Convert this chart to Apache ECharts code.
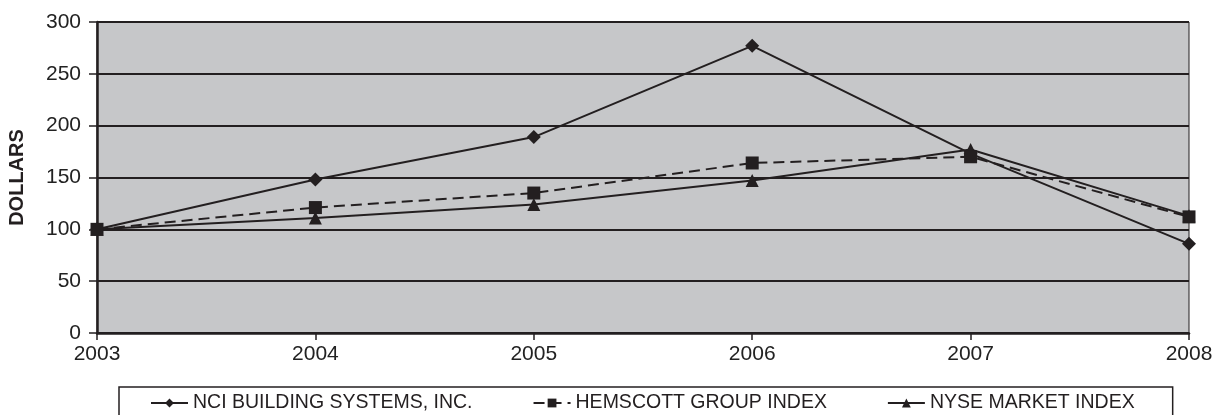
<!DOCTYPE html>
<html>
<head>
<meta charset="utf-8">
<script src="https://cdn.jsdelivr.net/npm/echarts@6/dist/echarts.min.js"></script>
<style>
  html, body { margin: 0; padding: 0; background: #fff; }
  #chart { width: 1215px; height: 415px; }
</style>
</head>
<body>
<div id="chart"></div>
<script>
// data
var years = ['2003', '2004', '2005', '2006', '2007', '2008']
var nciValues = [100, 148, 189, 277, 173, 86]
var hemscottValues = [100, 121, 135, 164, 170, 112]
var nyseValues = [100, 111, 124, 147, 177, 113]

var ink = '#231f20'
var font = 'Liberation Sans, Arial, sans-serif'

var chart = echarts.init(document.getElementById('chart'), null, { renderer: 'canvas' })

var lineSeries = function(name, values, symbol, size, dashed, z) {
    return {
        name: name,
        type: 'line',
        data: values,
        symbol: symbol,
        symbolSize: size,
        showSymbol: true,
        z: z,
        itemStyle: { color: ink, borderWidth: 0 },
        lineStyle: { color: ink, width: 2, type: dashed ? [11, 6] : 'solid' },
        emphasis: { disabled: true },
        animation: false
    }
}

chart.setOption({
    animation: false,
    grid: {
        left: 97, right: 26, top: 22, bottom: 82,
        outerBoundsMode: 'none',
        containLabel: false,
        show: true,
        backgroundColor: '#c6c7c9',
        borderColor: ink,
        borderWidth: 1
    },
    xAxis: {
        type: 'category',
        data: years,
        boundaryGap: false,
        axisLine: { lineStyle: { color: ink, width: 2.5 } },
        axisTick: { show: true, length: 7, alignWithLabel: true, lineStyle: { color: ink, width: 1.5 } },
        axisLabel: { color: '#222', fontFamily: font, fontSize: 21, margin: 11 },
        splitLine: { show: false }
    },
    yAxis: {
        type: 'value',
        min: 0, max: 300, interval: 50,
        name: 'DOLLARS',
        nameLocation: 'middle',
        nameGap: 70,
        nameTextStyle: { color: ink, fontFamily: font, fontSize: 20, fontWeight: 'bold' },
        axisLine: { show: true, lineStyle: { color: ink, width: 2.5 } },
        axisTick: { show: true, length: 8, lineStyle: { color: ink, width: 1.5 } },
        axisLabel: { color: '#222', fontFamily: font, fontSize: 21, margin: 16 },
        splitLine: { show: true, lineStyle: { color: ink, width: 2 } }
    },
    legend: {
        left: 119, top: 387,
        padding: [6, 38, 12, 31],
        itemGap: 60,
        itemWidth: 37,
        itemHeight: 11,
        borderColor: ink,
        borderWidth: 1.5,
        backgroundColor: '#fff',
        textStyle: { color: ink, fontFamily: font, fontSize: 19.5 },
        data: ['NCI BUILDING SYSTEMS, INC.', 'HEMSCOTT GROUP INDEX', 'NYSE MARKET INDEX']
    },
    series: [
        lineSeries('NCI BUILDING SYSTEMS, INC.', nciValues, 'diamond', 14, false, 2),
        lineSeries('NYSE MARKET INDEX', nyseValues, 'triangle', 13, false, 2),
        lineSeries('HEMSCOTT GROUP INDEX', hemscottValues, 'rect', 13, true, 3)
    ]
})
</script>
</body>
</html>
